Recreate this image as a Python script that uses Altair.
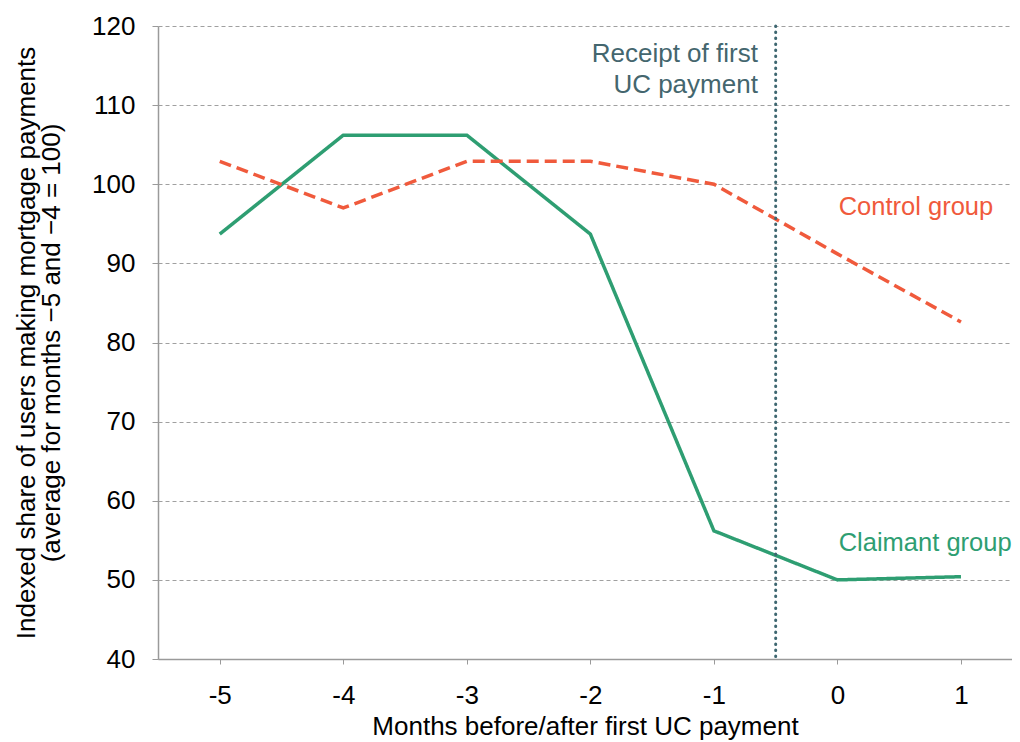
import altair as alt
import pandas as pd

months = [-5, -4, -3, -2, -1, 0, 1]
claimant = [93.7, 106.2, 106.2, 93.7, 56.2, 50.0, 50.4]
control = [102.9, 97.0, 102.9, 102.9, 100.0, 91.2, 82.6]
groups = ["Claimant group", "Control group"]
colors = ["#2e9e72", "#f05a3c"]

rows = []
for m, v in zip(months, claimant):
    rows.append({"month": m, "value": v, "group": groups[0]})
for m, v in zip(months, control):
    rows.append({"month": m, "value": v, "group": groups[1]})
df = pd.DataFrame(rows)

FONT = "Liberation Sans"

x_scale = alt.Scale(domain=[-5.5, 1.413], nice=False, zero=False)
y_scale = alt.Scale(domain=[40, 120], nice=False, zero=False)

lines = alt.Chart(df).mark_line(strokeWidth=3.5, clip=False).encode(
    x=alt.X("month:Q", scale=x_scale,
            axis=alt.Axis(title="Months before/after first UC payment",
                          values=months, labelExpr="'' + datum.value", grid=False,
                          tickSize=5, labelPadding=18, titlePadding=5)),
    y=alt.Y("value:Q", scale=y_scale,
            axis=alt.Axis(title=["Indexed share of users making mortgage payments",
                                 "(average for months \u22125 and \u22124 = 100)"],
                          values=list(range(40, 121, 10)), grid=True,
                          gridDash=[4, 3], gridColor="#a0a0a0",
                          tickSize=6, labelPadding=17, titlePadding=27)),
    color=alt.Color("group:N", scale=alt.Scale(domain=groups, range=colors), legend=None),
    strokeDash=alt.StrokeDash("group:N",
                              scale=alt.Scale(domain=groups, range=[[1, 0], [12, 6]]),
                              legend=None),
)

rule_df = pd.DataFrame({"month": [-0.5]})
rule = alt.Chart(rule_df).mark_rule(color="#3d6670", strokeWidth=3, strokeDash=[0.5, 5.5],
                                    strokeCap="round").encode(
    x=alt.X("month:Q", scale=x_scale)
)

ann_df = pd.DataFrame({
    "month": [0.01, 0.01],
    "value": [97.1, 54.6],
    "label": ["Control group", "Claimant group"],
    "group": groups[::-1],
})
ann = alt.Chart(ann_df).mark_text(align="left", baseline="middle", font=FONT, fontSize=25.5).encode(
    x=alt.X("month:Q", scale=x_scale),
    y=alt.Y("value:Q", scale=y_scale),
    text="label:N",
    color=alt.Color("group:N", scale=alt.Scale(domain=groups, range=colors), legend=None),
)

rec_df = pd.DataFrame({
    "month": [-0.644, -0.644],
    "value": [116.5, 112.6],
    "label": ["Receipt of first", "UC payment"],
})
rec = alt.Chart(rec_df).mark_text(align="right", baseline="middle", font=FONT, fontSize=26,
                                  color="#44666e").encode(
    x=alt.X("month:Q", scale=x_scale),
    y=alt.Y("value:Q", scale=y_scale),
    text="label:N",
)

chart = alt.layer(lines, rule, ann, rec).properties(
    width=854, height=633,
    autosize=alt.AutoSizeParams(type="none"),
    padding={"left": 150, "top": 18, "right": 0, "bottom": 82},
).configure_view(stroke=None).configure_axis(
    labelFont=FONT, titleFont=FONT, labelFontSize=26, titleFontSize=26,
    labelColor="#000000", titleColor="#000000", titleFontWeight="normal",
    domainColor="#9a9a9a", tickColor="#9a9a9a", domainWidth=1.5,
).configure_axisY(titleLineHeight=25)

chart.save("out.html", embed_options={"renderer": "svg", "actions": False})
